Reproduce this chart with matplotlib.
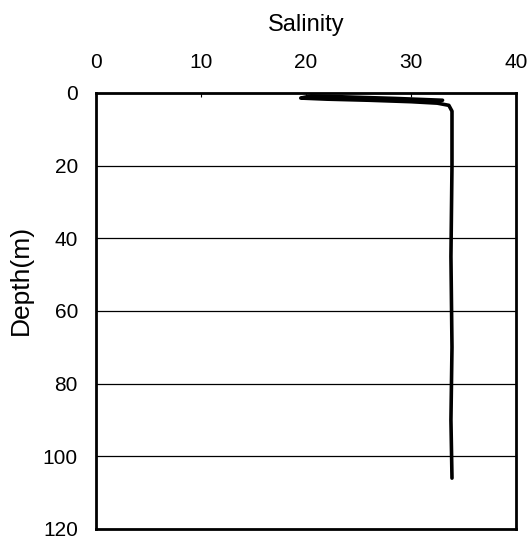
import matplotlib
matplotlib.use("Agg")
import matplotlib.pyplot as plt

# salinity profile
salinity = [33.0, 28.5, 24.0, 20.5, 19.5, 22.0, 26.0, 30.0, 32.5, 33.6, 33.9, 33.9, 33.8, 33.9, 33.8, 33.9]
depth = [2.0, 1.5, 1.1, 0.8, 1.4, 1.7, 2.0, 2.4, 2.8, 3.4, 5.0, 20.0, 45.0, 70.0, 90.0, 106.0]

x_ticks = [0, 10, 20, 30, 40]
y_ticks = [0, 20, 40, 60, 80, 100, 120]

plt.rcParams['font.family'] = ['Liberation Sans', 'DejaVu Sans']

fig = plt.figure(figsize=(5.32, 5.40), dpi=100)
ax = fig.add_axes([0.1805, 0.0204, 0.7895, 0.8074])

for d in y_ticks[1:-1]:
    ax.axhline(d, color='black', lw=0.9, zorder=1)

ax.plot(salinity, depth, color='black', lw=2.6, solid_capstyle='round', zorder=3)

ax.set_xlim(0, 40)
ax.set_ylim(120, 0)
ax.set_xticks(x_ticks)
ax.set_yticks(y_ticks)
ax.xaxis.tick_top()
ax.xaxis.set_label_position('top')
ax.tick_params(axis='x', direction='in', length=3, width=0.8, labelsize=15, pad=15)
ax.tick_params(axis='y', length=0, labelsize=15, pad=13)
ax.set_xlabel('Salinity', fontsize=17)
ax.set_ylabel('Depth(m)', fontsize=19)
ax.xaxis.set_label_coords(0.5, 1.143)
ax.yaxis.set_label_coords(-0.150, 0.571)

for s in ax.spines.values():
    s.set_linewidth(2)

fig.savefig('out.png', dpi=100)
